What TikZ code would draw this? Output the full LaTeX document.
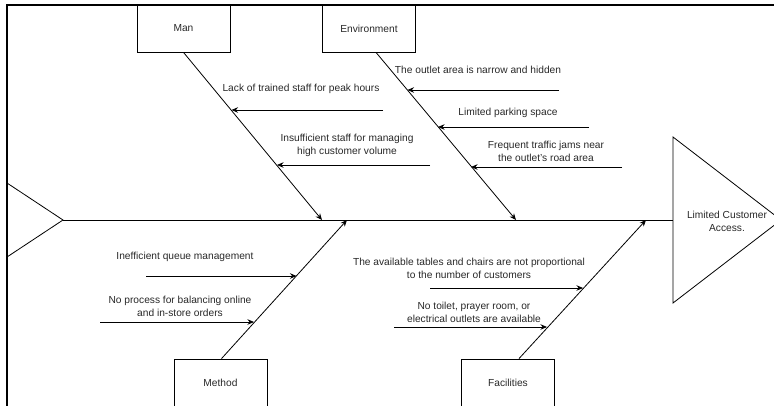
\documentclass[tikz,border=0pt]{standalone}
\usepackage{fontspec}
\setmainfont{Liberation Sans}
\usetikzlibrary{arrows.meta}
\definecolor{txt}{RGB}{40,40,40}
\tikzset{
  every picture/.style={x=1pt,y=-1pt},
  bone/.style={draw=black,line width=0.8pt,-{Stealth[length=6.5pt,width=5.5pt]}},
  cause/.style={draw=black,line width=0.8pt,-{Stealth[length=6.5pt,width=5.5pt]}},
  catbox/.style={draw=black,line width=0.8pt,minimum width=93pt,minimum height=47pt,inner sep=0pt,font=\fontsize{10.2}{13}\selectfont,text=txt},
  lbl/.style={align=center,inner sep=0pt,font=\fontsize{10.2}{13}\selectfont,text=txt},
}
\begin{document}
\begin{tikzpicture}
\useasboundingbox (0,0) rectangle (774,405);
% category boxes
\node[catbox] (man) at (183.5,28.5) {Man};
\node[catbox] (env) at (369,28.5) {Environment};
\node[catbox] (meth) at (220.5,382.5) {Method};
\node[catbox] (fac) at (508,382.5) {Facilities};
% frame
\draw[line width=1.8pt] (7,406) -- (7,5) -- (775,5);
% tail
\coordinate (tailtip) at (63,220);
\draw[line width=0.8pt] (7,183) -- (tailtip) -- (7,257);
% head
\coordinate (headl) at (673,220);
\draw[line width=0.8pt] (673,137) -- (781,220) -- (673,303) -- cycle;
\node[lbl] (effect) at (727,221) {Limited Customer\\Access.};
% spine
\draw[line width=0.8pt] (tailtip) -- (headl);
% bone ends on spine
\coordinate (manE) at (322,220);
\coordinate (envE) at (516,220);
\coordinate (methE) at (347,220);
\coordinate (facE) at (646,220);
\draw[bone] (man.south) -- (manE);
\draw[bone] ([xshift=7pt]env.south) -- (envE);
\draw[bone] ([xshift=1pt]meth.north) -- (methE);
\draw[bone] ([xshift=11pt]fac.north) -- (facE);
% Man causes
\node[lbl] (m1t) at (301,89) {Lack of trained staff for peak hours};
\coordinate (m1s) at (383,110); \coordinate (m1e) at (231.5,110);
\draw[cause] (m1s) -- (m1e);
\node[lbl] (m2t) at (347,145) {Insufficient staff for managing\\high customer volume};
\coordinate (m2s) at (430,165); \coordinate (m2e) at (277,165);
\draw[cause] (m2s) -- (m2e);
% Environment causes
\node[lbl] (e1t) at (478,70) {The outlet area is narrow and hidden};
\coordinate (e1s) at (559,90); \coordinate (e1e) at (407.5,90);
\draw[cause] (e1s) -- (e1e);
\node[lbl] (e2t) at (508,113) {Limited parking space};
\coordinate (e2s) at (589,127); \coordinate (e2e) at (438,127);
\draw[cause] (e2s) -- (e2e);
\node[lbl] (e3t) at (546,151.5) {Frequent traffic jams near\\the outlet's road area};
\coordinate (e3s) at (622,167); \coordinate (e3e) at (471,167);
\draw[cause] (e3s) -- (e3e);
% Method causes
\node[lbl] (t1t) at (185,257) {Inefficient queue management};
\coordinate (t1s) at (146,276); \coordinate (t1e) at (296.5,276);
\draw[cause] (t1s) -- (t1e);
\node[lbl] (t2t) at (180,306.5) {No process for balancing online\\and in-store orders};
\coordinate (t2s) at (100,322); \coordinate (t2e) at (254,322);
\draw[cause] (t2s) -- (t2e);
% Facilities causes
\node[lbl] (f1t) at (469,268.5) {The available tables and chairs are not proportional\\to the number of customers};
\coordinate (f1s) at (430,288); \coordinate (f1e) at (583,288);
\draw[cause] (f1s) -- (f1e);
\node[lbl] (f2t) at (474,312) {No toilet, prayer room, or\\electrical outlets are available};
\coordinate (f2s) at (394,327); \coordinate (f2e) at (547,327);
\draw[cause] (f2s) -- (f2e);
\end{tikzpicture}
\end{document}
